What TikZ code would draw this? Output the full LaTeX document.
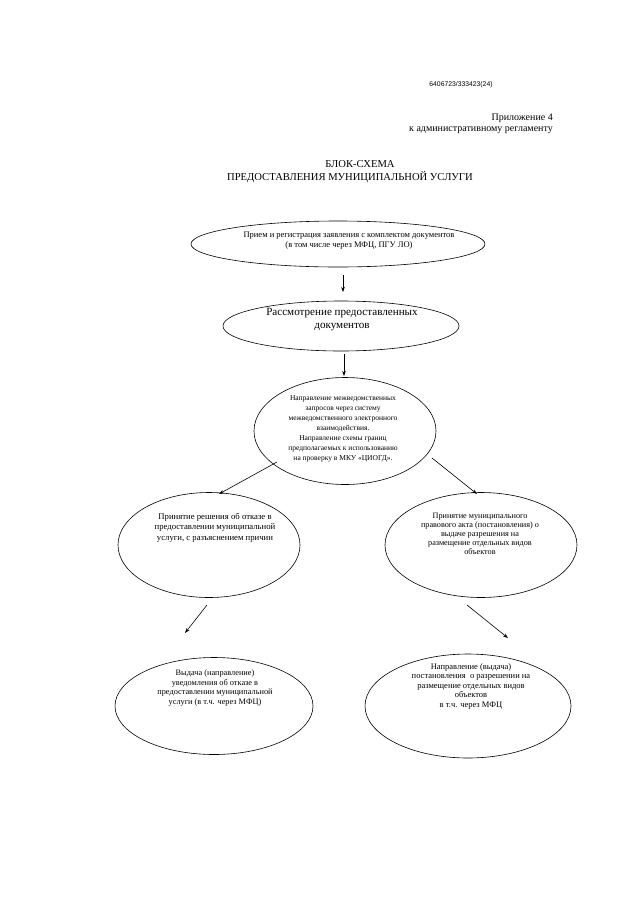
\documentclass[tikz,border=0pt]{standalone}
\usepackage{fontspec}
\setmainfont{Liberation Serif}
\newfontfamily\numfont{Liberation Sans}
\usetikzlibrary{shapes.geometric,arrows.meta}
\begin{document}
\begin{tikzpicture}[x=1pt,y=-1pt,
  oval/.style={draw, ellipse, line width=0.6pt, inner sep=0pt},
  lbl/.style={align=center, inner sep=0pt},
  arr/.style={-{Stealth[length=5pt,width=3.5pt]}, line width=0.6pt}]
\useasboundingbox[fill=white] (0,0) rectangle (640,900);

% header
\node[lbl, font=\numfont\fontsize{6.8}{8}\selectfont] (num) at (461,85) {6406723/333423(24)};
\node[lbl, anchor=east, font=\fontsize{10}{12}\selectfont] (app1) at (553,118) {Приложение 4};
\node[lbl, anchor=east, font=\fontsize{10}{12}\selectfont] (app2) at (553,130) {к административному регламенту};
\node[lbl, font=\fontsize{10.6}{12}\selectfont] (title1) at (360,164) {БЛОК-СХЕМА};
\node[lbl, font=\fontsize{10.6}{12}\selectfont] (title2) at (350,177) {ПРЕДОСТАВЛЕНИЯ МУНИЦИПАЛЬНОЙ УСЛУГИ};

% ellipses
\node[oval, minimum width=294pt, minimum height=46pt] (e1) at (338,244) {};
\node[oval, minimum width=236pt, minimum height=50pt] (e2) at (341,326) {};
\node[oval, minimum width=182pt, minimum height=107pt] (e3) at (345,431) {};
\node[oval, minimum width=182pt, minimum height=105pt] (e4) at (209,545) {};
\node[oval, minimum width=192pt, minimum height=105pt] (e5) at (481,545) {};
\node[oval, minimum width=198pt, minimum height=97pt] (e6) at (214,706) {};
\node[oval, minimum width=206pt, minimum height=104pt] (e7) at (468,706) {};

% texts
\node[lbl, font=\fontsize{8.5}{9.3}\selectfont] (t1) at (349,240.5)
  {Прием и регистрация заявления с комплектом документов\\(в том числе через МФЦ, ПГУ ЛО)};
\node[lbl, font=\fontsize{11.1}{13}\selectfont] (t2) at (342,320)
  {Рассмотрение предоставленных\\документов};
\node[lbl, font=\fontsize{7.5}{10}\selectfont] (t3) at (343,429)
  {Направление межведомственных\\запросов через систему\\межведомственного электронного\\взаимодействия.\\Направление схемы границ\\предполагаемых к использованию\\на проверку в МКУ «ЦИОГД».};
\node[lbl, font=\fontsize{8.7}{10.5}\selectfont] (t4) at (215,527.5)
  {Принятие решения об отказе в\\предоставлении муниципальной\\услуги, с разъяснением причин};
\node[lbl, font=\fontsize{8.2}{9}\selectfont] (t5) at (480,534)
  {Принятие муниципального\\правового акта (постановления) о\\выдаче разрешения на\\размещение отдельных видов\\объектов};
\node[lbl, font=\fontsize{8.3}{9.6}\selectfont] (t6) at (215,688)
  {Выдача (направление)\\уведомления об отказе в\\предоставлении муниципальной\\услуги (в т.ч. через МФЦ)};
\node[lbl, font=\fontsize{8.5}{9.5}\selectfont] (t7) at (471,686)
  {Направление (выдача)\\постановления\ \ о разрешении на\\размещение отдельных видов\\объектов\\в т.ч. через МФЦ};

% arrow coordinates
\coordinate (a1s) at (343,275); \coordinate (a1e) at (343,292);
\coordinate (a2s) at (344,354); \coordinate (a2e) at (344,376);
\coordinate (a3s) at (277,462); \coordinate (a3e) at (219,494);
\coordinate (a4s) at (432,458); \coordinate (a4e) at (477,494);
\coordinate (a5s) at (207,605); \coordinate (a5e) at (185,633);
\coordinate (a6s) at (467,605); \coordinate (a6e) at (508,638);

\draw[arr] (a1s) -- (a1e);
\draw[arr] (a2s) -- (a2e);
\draw[arr] (a3s) -- (a3e);
\draw[arr] (a4s) -- (a4e);
\draw[arr] (a5s) -- (a5e);
\draw[arr] (a6s) -- (a6e);
\end{tikzpicture}
\end{document}
